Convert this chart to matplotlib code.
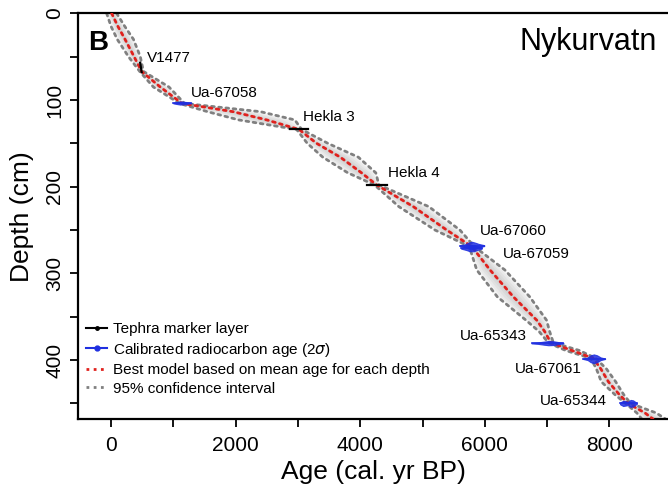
import numpy as np
import matplotlib.pyplot as plt
from matplotlib.lines import Line2D

# age-depth model, Nykurvatn core
model_depth = [0, 15, 30, 50, 67, 85, 104, 113.5, 123, 134, 150, 166, 184, 198,
               223, 250, 269, 296, 327, 354, 367, 380, 389, 398, 410, 425, 440, 450, 461, 468]
model_mean = [10, 110, 225, 370, 490, 790, 1140, 1960, 2500, 3018, 3300, 3680, 4020, 4265,
              4852, 5388, 5790, 6083, 6457, 6833, 6960, 7060, 7400, 7740, 7860, 7983, 8160, 8300, 8570, 8700]
ci_lo = [-70, 0, 100, 280, 460, 680, 1100, 1550, 2050, 2980, 3150, 3400, 3800, 4230,
         4620, 5200, 5750, 5870, 6200, 6660, 6870, 7020, 7300, 7700, 7790, 7870, 8090, 8260, 8440, 8520]
ci_hi = [90, 220, 360, 470, 520, 930, 1180, 2400, 2950, 3060, 3480, 3970, 4250, 4300,
         5100, 5600, 5830, 6320, 6720, 6990, 7040, 7100, 7520, 7780, 7950, 8100, 8230, 8340, 8750, 8900]

# tephra layers: name, depth range, age range
tephra_names = ['V1477', 'Hekla 3', 'Hekla 4']
tephra_depth = [(57, 68), (134, 134), (198, 198)]
tephra_age = [(468, 492), (2870, 3160), (4104, 4425)]

# calibrated radiocarbon dates (2 sigma), shape of the probability blob
date_names = ['Ua-67058', 'Ua-67060', 'Ua-67059', 'Ua-65343', 'Ua-67061', 'Ua-65344']
date_depth = [103.5, 268, 271, 380.5, 398.5, 450]
date_ages = [[1000, 1060, 1110, 1150, 1200, 1250, 1290],
             [5600, 5680, 5740, 5790, 5840, 5900, 5990],
             [5620, 5700, 5760, 5820, 5880, 5950],
             [6750, 6850, 6950, 7020, 7100, 7180, 7260],
             [7580, 7650, 7700, 7750, 7800, 7860, 7930],
             [8170, 8220, 8260, 8300, 8340, 8380, 8440]]
date_prob = [[0.4, 1.2, 1.8, 1.6, 1.2, 0.6, 0.2],
             [0.5, 1.5, 3.5, 4.5, 3.5, 2.0, 0.5],
             [0.5, 2.0, 3.5, 3.5, 2.0, 0.5],
             [0.3, 0.8, 1.8, 2.4, 2.2, 1.2, 0.3],
             [0.3, 1.5, 4.0, 5.0, 4.0, 1.5, 0.3],
             [1.0, 3.0, 2.5, 2.0, 4.0, 3.5, 0.5]]

xticks = [0, 2000, 4000, 6000, 8000]
yticks = [0, 100, 200, 300, 400]

plt.rcParams['font.family'] = ['Liberation Sans', 'DejaVu Sans']

fig = plt.figure(figsize=(6.68, 4.95), dpi=100)
ax = fig.add_axes([78/668, 1-419/495, 1-78/668, (419-13.3)/495])

md = np.array(model_depth)
mm = np.array(model_mean)
lo = np.array(ci_lo)
hi = np.array(ci_hi)

# grey density band (layers, darker towards the mean)
for f in [1.0, 0.8, 0.6, 0.4, 0.22]:
    ax.fill_betweenx(md, mm - f*(mm - lo), mm + f*(hi - mm), color='0.55',
                     alpha=0.09, lw=0)

dot = (0, (1, 1.6))
ax.plot(lo, md, color='0.5', lw=2, ls=dot, dash_capstyle='round')
ax.plot(hi, md, color='0.5', lw=2, ls=dot, dash_capstyle='round')
ax.plot(mm, md, color='#e0211d', lw=2, ls=dot, dash_capstyle='round', zorder=4)

for (d0, d1), (a0, a1) in zip(tephra_depth, tephra_age):
    ax.plot([a0, a1], [d0, d1], color='black', lw=1.6, zorder=5)

for d, ages, prob in zip(date_depth, date_ages, date_prob):
    ages = np.array(ages)
    prob = np.array(prob)
    ax.fill_between(ages, d - prob, d + prob, color='#1f2fe0', lw=0.8,
                    edgecolor='#1f2fe0', alpha=0.85, zorder=6)
    ax.plot([ages[0], ages[-1]], [d, d], color='#1f2fe0', lw=1.2, zorder=6)

# labels
lab_kw = dict(fontsize=11, va='center', zorder=7)
ax.text(578, 51.6, 'V1477', ha='left', **lab_kw)
ax.text(1284, 91.6, 'Ua-67058', ha='left', **lab_kw)
ax.text(3082, 119.5, 'Hekla 3', ha='left', **lab_kw)
ax.text(4446, 184, 'Hekla 4', ha='left', **lab_kw)
ax.text(5923, 250.7, 'Ua-67060', ha='left', **lab_kw)
ax.text(6297, 277.6, 'Ua-67059', ha='left', **lab_kw)
ax.text(6672, 372, 'Ua-65343', ha='right', **lab_kw)
ax.text(7555, 410.6, 'Ua-67061', ha='right', **lab_kw)
ax.text(7966, 447, 'Ua-65344', ha='right', **lab_kw)

ax.text(-369, 34, 'B', fontsize=20, fontweight='bold', ha='left', va='center')
ax.text(8764, 33, 'Nykurvatn', fontsize=22, ha='right', va='center')

ax.set_xlim(-530, 8940)
ax.set_ylim(468, 0)
ax.set_xticks(xticks)
ax.set_xticks(np.arange(1000, 8000, 2000), minor=True)
ax.set_yticks(yticks)
ax.set_yticks(np.arange(50, 500, 100), minor=True)
ax.tick_params(which='both', direction='out', length=6, width=1.3, labelsize=15)
ax.tick_params(axis='x', pad=6)
ax.tick_params(axis='y', pad=4)
for t in ax.get_yticklabels():
    t.set_rotation(90)
    t.set_va('center')

for s in ['left', 'bottom', 'top']:
    ax.spines[s].set_linewidth(1.6)
ax.spines['right'].set_visible(False)

ax.set_xlabel('Age (cal. yr BP)', fontsize=19, labelpad=4)
ax.set_ylabel('Depth (cm)', fontsize=19, labelpad=8)

handles = [
    Line2D([], [], color='black', lw=1.5, marker='o', ms=2.5),
    Line2D([], [], color='#1f2fe0', lw=1.5, marker='o', ms=3.5),
    Line2D([], [], color='#e0211d', lw=2, ls=dot),
    Line2D([], [], color='0.5', lw=2, ls=dot),
]
labels = ['Tephra marker layer', 'Calibrated radiocarbon age (2$\\sigma$)',
          'Best model based on mean age for each depth', '95% confidence interval']
fig.legend(handles, labels, loc='upper left', bbox_to_anchor=(86/668, 1-322/495),
           frameon=False, fontsize=11, handlelength=1.4, handletextpad=0.4,
           labelspacing=0.3, borderpad=0, borderaxespad=0)

fig.savefig('out.png', dpi=100)
